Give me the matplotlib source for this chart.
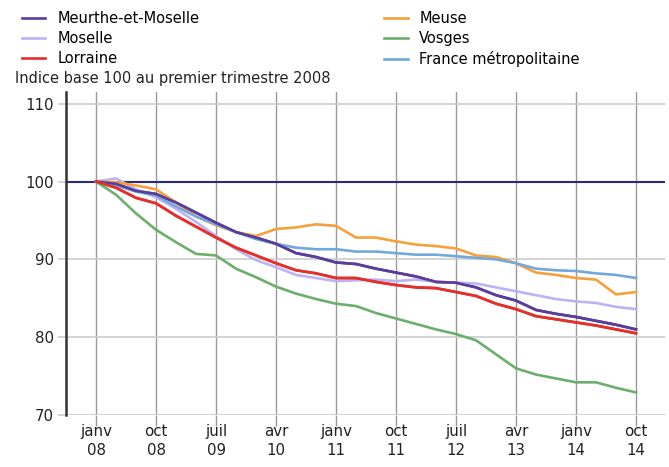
import numpy as np
import matplotlib.pyplot as plt

# quarterly index, base 100 = 2008 Q1 (2008Q1 .. 2014Q4)
meurthe = [100, 99.7, 98.8, 98.4, 97.3, 96.0, 94.7, 93.5, 92.8, 92.0, 90.8, 90.3, 89.6, 89.4,
           88.8, 88.3, 87.8, 87.1, 87.0, 86.4, 85.4, 84.7, 83.5, 83.0, 82.6, 82.1, 81.6, 81.0]
moselle = [100, 100.4, 99.0, 98.0, 96.5, 94.8, 93.0, 91.3, 89.9, 89.0, 88.0, 87.6, 87.2, 87.3,
           87.4, 87.2, 87.4, 87.1, 87.0, 86.9, 86.4, 85.9, 85.4, 84.9, 84.6, 84.4, 83.9, 83.6]
lorraine = [100, 99.2, 97.9, 97.2, 95.6, 94.2, 92.8, 91.5, 90.5, 89.5, 88.6, 88.2, 87.6, 87.6,
            87.1, 86.7, 86.4, 86.3, 85.8, 85.3, 84.3, 83.6, 82.7, 82.3, 81.9, 81.5, 81.0, 80.5]
meuse = [100, 99.9, 99.5, 99.0, 97.3, 95.5, 94.4, 93.5, 93.0, 93.9, 94.1, 94.5, 94.3, 92.8,
         92.8, 92.3, 91.9, 91.7, 91.4, 90.5, 90.3, 89.5, 88.3, 88.0, 87.6, 87.4, 85.5, 85.8]
vosges = [100, 98.3, 95.9, 93.8, 92.2, 90.7, 90.5, 88.8, 87.7, 86.5, 85.6, 84.9, 84.3, 84.0,
          83.1, 82.4, 81.7, 81.0, 80.4, 79.6, 77.8, 76.0, 75.2, 74.7, 74.2, 74.2, 73.5, 72.9]
france = [100, 99.5, 98.7, 98.2, 96.8, 95.5, 94.5, 93.5, 92.6, 92.0, 91.5, 91.3, 91.3, 91.0,
          91.0, 90.8, 90.6, 90.6, 90.4, 90.2, 90.0, 89.5, 88.8, 88.6, 88.5, 88.2, 88.0, 87.6]

tick_labels = ['janv\n08', 'oct\n08', 'juil\n09', 'avr\n10', 'janv\n11',
               'oct\n11', 'juil\n12', 'avr\n13', 'janv\n14', 'oct\n14']

series = [
    ('Meurthe-et-Moselle', meurthe, '#5a3d9a'),
    ('Moselle', moselle, '#bcb4f2'),
    ('Lorraine', lorraine, '#e2302c'),
    ('Meuse', meuse, '#f6a03c'),
    ('Vosges', vosges, '#6cae6c'),
    ('France métropolitaine', france, '#72a9da'),
]

plt.rcParams['font.family'] = 'DejaVu Sans'

fig = plt.figure(figsize=(6.69, 4.67), dpi=100)
ax = fig.add_axes([0.0987, 0.1113, 0.8953, 0.6917])
ax.set_axisbelow(True)

x = np.arange(len(meurthe))
ax.axhline(100, color='#2b2b7c', lw=1.5, zorder=2)
for name, vals, col in series:
    ax.plot(x, vals, color=col, lw=1.9, label=name, zorder=3)
# the two dark ones sit on top in the original
ax.plot(x, meurthe, color='#5a3d9a', lw=1.9, zorder=4)
ax.plot(x, lorraine, color='#e2302c', lw=1.9, zorder=4)

ax.set_xlim(-1.5, 28.45)
ax.set_ylim(70, 111.5)
ax.set_xticks(np.arange(0, 28, 3))
ax.set_xticklabels(tick_labels, fontsize=10.8, color='#222222', linespacing=1.35)
ax.set_yticks([70, 80, 90, 100, 110])
ax.set_yticklabels(['70', '80', '90', '100', '110'], fontsize=10.8, color='#222222')

ax.grid(axis='x', color='#9a9a9a', lw=1.0)
ax.grid(axis='y', color='#cccccc', lw=1.2)
ax.tick_params(axis='x', length=8, color='#9a9a9a', width=1.0, pad=-1.5)
ax.tick_params(axis='y', length=6, color='#cccccc', width=1.2, pad=3)
for s in ['top', 'right', 'bottom']:
    ax.spines[s].set_visible(False)
ax.spines['left'].set_color('#333333')
ax.spines['left'].set_linewidth(1.8)

fig.text(0.022, 0.831, 'Indice base 100 au premier trimestre 2008', fontsize=10.5,
         color='#222222', va='center')

fig.legend(loc='upper left', bbox_to_anchor=(0.02, 0.995), ncol=2, frameon=False,
           fontsize=10.5, handlelength=1.6, handletextpad=0.8, columnspacing=12.7,
           labelspacing=0.34, borderaxespad=0.2)

fig.savefig('out.png', dpi=100)
